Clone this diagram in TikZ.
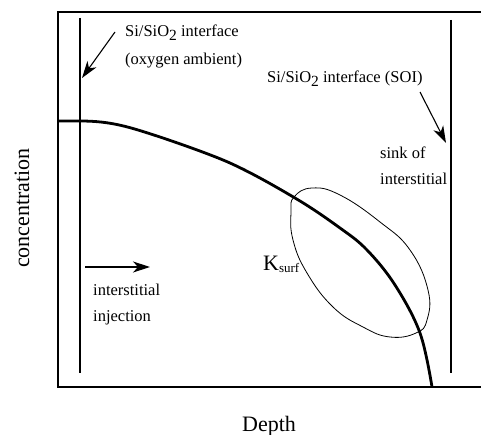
\documentclass[tikz,border=0pt]{standalone}
\usepackage{fontspec}
\setmainfont{Liberation Serif}
\usetikzlibrary{arrows.meta}
\newcommand{\lbl}{\fontsize{16.5}{18}\selectfont}
\newcommand{\axl}{\fontsize{22}{24}\selectfont}
\newcommand{\sitwo}{Si/SiO\raisebox{-0.45ex}{\fontsize{15.5}{15.5}\selectfont 2}}
\tikzset{
  lbltxt/.style={anchor=base west,inner sep=0pt,font=\lbl},
  pointer/.style={-{Stealth[length=17pt,width=11pt,inset=5pt]},line width=1.1pt}
}
\begin{document}
\begin{tikzpicture}[x=1pt,y=-1pt]
  \useasboundingbox (0,0) rectangle (481,435);
  % frame
  \draw[line width=1.6pt] (481,12) -- (58,12) -- (58,387) -- (481,387);
  % interfaces
  \draw[line width=1.2pt] (80,18) -- (80,373);
  \draw[line width=1.2pt] (451,20) -- (451,373);
  % profile
  \draw[line width=2.8pt] (58,121) -- (80,121) to[out=0,in=162] (160,137)
    plot[smooth,tension=0.6] coordinates {(160,137) (230,163) (295,198) (340,228) (367,250) (395,285) (420,333) (432,387)};
  % K_surf region
  \draw[line width=0.8pt] plot[smooth cycle,tension=0.75] coordinates {(294,197) (312,188) (340,195) (380,222) (410,250) (428,290) (427,320) (416,333) (390,337) (363,327) (333,307) (307,273) (293,240) (291,212)};
  \node[lbltxt] at (125,37) (oxy1) {\sitwo{} interface};
  \node[lbltxt] at (125,65) (oxy2) {(oxygen ambient)};
  \node[lbltxt] at (267,83) (soi) {\sitwo{} interface (SOI)};
  \node[lbltxt] at (380,159) (sink1) {sink of};
  \node[lbltxt] at (380,185) (sink2) {interstitial};
  \node[lbltxt] at (93,295) (inj1) {interstitial};
  \node[lbltxt] at (93,321) (inj2) {injection};
  \node[anchor=base west,inner sep=0pt,font=\axl] at (263,270) (ks) {K\raisebox{-0.25ex}{\fontsize{13}{13}\selectfont surf}};
  \node[font=\axl,rotate=90] at (22,208) (conc) {concentration};
  \node[font=\axl,anchor=base] at (269,431) (depth) {Depth};
  % pointers
  \coordinate (a1) at (115,32); \coordinate (b1) at (82,78);
  \coordinate (a2) at (420,92); \coordinate (b2) at (446,143);
  \coordinate (a3) at (85,267); \coordinate (b3) at (150,267);
  \draw[pointer] (a1) -- (b1);
  \draw[pointer] (a2) -- (b2);
  \draw[pointer] (a3) -- (b3);
\end{tikzpicture}
\end{document}
